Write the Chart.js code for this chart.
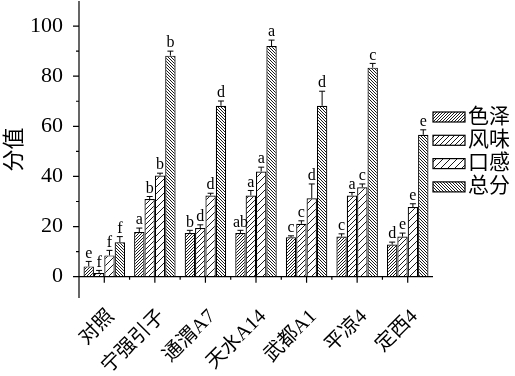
<!DOCTYPE html>
<html>
<head>
<meta charset="utf-8">
<script src="https://cdn.jsdelivr.net/npm/chart.js@4/dist/chart.umd.min.js"></script>
<style>
  html, body { margin: 0; padding: 0; background: #fff; }
</style>
</head>
<body>
<canvas id="myChart" width="515" height="376"></canvas>
<script>
const groups = ["对照", "宁强引子", "通渭A7", "天水A14", "武都A1", "平凉4", "定西4"];
const seriesNames = ["色泽", "风味", "口感", "总分"];

const colour = [4.1, 17.8, 17.4, 17.4, 15.7, 16.0, 12.8];
const flavour = [1.5, 31.0, 19.4, 32.4, 21.1, 32.4, 16.0];
const mouthfeel = [8.5, 40.4, 32.4, 42.0, 31.3, 35.7, 27.8];
const total = [13.7, 88.2, 68.2, 92.0, 68.2, 83.4, 56.6];

const colourErr = [2.0, 1.6, 1.1, 1.1, 0.6, 1.1, 1.0];
const flavourErr = [1.0, 1.0, 1.3, 2.0, 1.2, 1.2, 1.4];
const mouthfeelErr = [2.0, 0.9, 0.9, 1.7, 5.7, 1.3, 1.3];
const totalErr = [2.3, 1.8, 1.9, 2.4, 5.8, 1.7, 2.0];

const colourSig = ["e", "a", "b", "ab", "c", "c", "d"];
const flavourSig = ["f", "b", "d", "a", "c", "a", "e"];
const mouthfeelSig = ["f", "b", "d", "a", "d", "c", "e"];
const totalSig = ["f", "b", "d", "a", "d", "c", "e"];

const yTickValues = [0, 20, 40, 60, 80, 100];

const fontFamily = '"Liberation Serif", "Noto Sans CJK SC", serif';

// diagonal hatch fill, back = true gives "\\\" lines
function hatch(step, back) {
  const c = document.createElement("canvas");
  c.width = c.height = step;
  const g = c.getContext("2d");
  g.fillStyle = "#fff";
  g.fillRect(0, 0, step, step);
  g.strokeStyle = "#000";
  g.lineWidth = 0.9;
  g.beginPath();
  for (let k = -1; k <= 1; k++) {
    if (back) {
      g.moveTo(k * step, 0);
      g.lineTo(k * step + step, step);
    } else {
      g.moveTo(k * step, step);
      g.lineTo(k * step + step, 0);
    }
  }
  g.stroke();
  return g.createPattern(c, "repeat");
}

const errors = [colourErr, flavourErr, mouthfeelErr, totalErr];
const letters = [colourSig, flavourSig, mouthfeelSig, totalSig];

const axesPlugin = {
  id: "axes",
  afterDatasetsDraw(chart) {
    const { ctx, chartArea, scales } = chart;
    const x = scales.x, y = scales.y;
    const y0 = y.getPixelForValue(0);
    const step = x.getPixelForValue(1) - x.getPixelForValue(0);
    ctx.save();
    ctx.strokeStyle = "#000";
    ctx.lineWidth = 1.2;
    ctx.beginPath();
    ctx.moveTo(chartArea.left, chartArea.top);
    ctx.lineTo(chartArea.left, chartArea.bottom);
    ctx.moveTo(chartArea.left - 3, y0);
    ctx.lineTo(chartArea.right, y0);
    for (let v = 0; v <= 100; v += 10) {
      const py = y.getPixelForValue(v);
      const len = v % 20 === 0 ? 6 : 3;
      ctx.moveTo(chartArea.left - len, py);
      ctx.lineTo(chartArea.left, py);
    }
    groups.forEach((g, i) => {
      const px = x.getPixelForValue(i);
      ctx.moveTo(px, y0);
      ctx.lineTo(px, y0 + 6);
      if (i < groups.length - 1) {
        ctx.moveTo(px + step / 2, y0);
        ctx.lineTo(px + step / 2, y0 + 3);
      }
    });
    ctx.stroke();

    // error bars and significance letters
    ctx.lineWidth = 1;
    ctx.font = "16px " + fontFamily;
    ctx.fillStyle = "#000";
    ctx.textAlign = "center";
    ctx.textBaseline = "bottom";
    chart.data.datasets.forEach((ds, di) => {
      const meta = chart.getDatasetMeta(di);
      meta.data.forEach((bar, i) => {
        const top = y.getPixelForValue(ds.data[i] + errors[di][i]);
        ctx.beginPath();
        ctx.moveTo(bar.x, bar.y);
        ctx.lineTo(bar.x, top);
        ctx.moveTo(bar.x - 3, top);
        ctx.lineTo(bar.x + 3, top);
        ctx.stroke();
        ctx.fillText(letters[di][i], bar.x, top);
      });
    });
    ctx.restore();
  },
  afterDraw(chart) {
    const { ctx, chartArea } = chart;
    ctx.save();
    ctx.font = "21px " + fontFamily;
    ctx.textAlign = "left";
    ctx.textBaseline = "middle";
    chart.data.datasets.forEach((ds, i) => {
      const bx = chartArea.right;
      const by = 112 + i * 23.3;
      ctx.fillStyle = ds.backgroundColor;
      ctx.fillRect(bx, by, 32, 10);
      ctx.strokeStyle = "#000";
      ctx.lineWidth = 1.2;
      ctx.strokeRect(bx, by, 32, 10);
      ctx.fillStyle = "#000";
      ctx.fillText(ds.label, bx + 35, by + 5);
    });
    ctx.restore();
  }
};

new Chart(document.getElementById("myChart"), {
  type: "bar",
  data: {
    labels: groups,
    datasets: [
      { label: seriesNames[0], data: colour, backgroundColor: hatch(3, false) },
      { label: seriesNames[1], data: flavour, backgroundColor: hatch(5, false) },
      { label: seriesNames[2], data: mouthfeel, backgroundColor: hatch(7, false) },
      { label: seriesNames[3], data: total, backgroundColor: hatch(3, true) },
    ].map((d) => ({
      ...d,
      borderColor: "#000",
      borderWidth: 1.2,
      categoryPercentage: 0.82,
      barPercentage: 1,
    })),
  },
  options: {
    responsive: false,
    animation: false,
    layout: { padding: { top: 1, right: 82, bottom: 0, left: 0 } },
    plugins: { legend: { display: false }, tooltip: { enabled: false } },
    scales: {
      x: {
        grid: { display: false, drawTicks: false },
        border: { display: false },
        ticks: {
          autoSkip: false,
          minRotation: 45,
          maxRotation: 45,
          padding: 7,
          labelOffset: 7,
          color: "#000",
          font: { family: fontFamily, size: 20 },
        },
        afterFit(scale) {
          scale.height = 78;
          scale.paddingLeft = 0;
          scale.paddingRight = 0;
        },
      },
      y: {
        min: -8.5,
        max: 110,
        grid: { display: false, drawTicks: false },
        border: { display: false },
        afterBuildTicks(scale) {
          scale.ticks = yTickValues.map((v) => ({ value: v }));
        },
        ticks: {
          padding: 16,
          color: "#000",
          font: { family: fontFamily, size: 22 },
        },
        title: {
          display: true,
          text: "分值",
          color: "#000",
          font: { family: fontFamily, size: 22 },
          padding: { top: 2, bottom: 0 },
        },
        afterFit(scale) {
          scale.width = 79;
          scale.paddingTop = 0;
          scale.paddingBottom = 0;
        },
      },
    },
  },
  plugins: [axesPlugin],
});
</script>
</body>
</html>
